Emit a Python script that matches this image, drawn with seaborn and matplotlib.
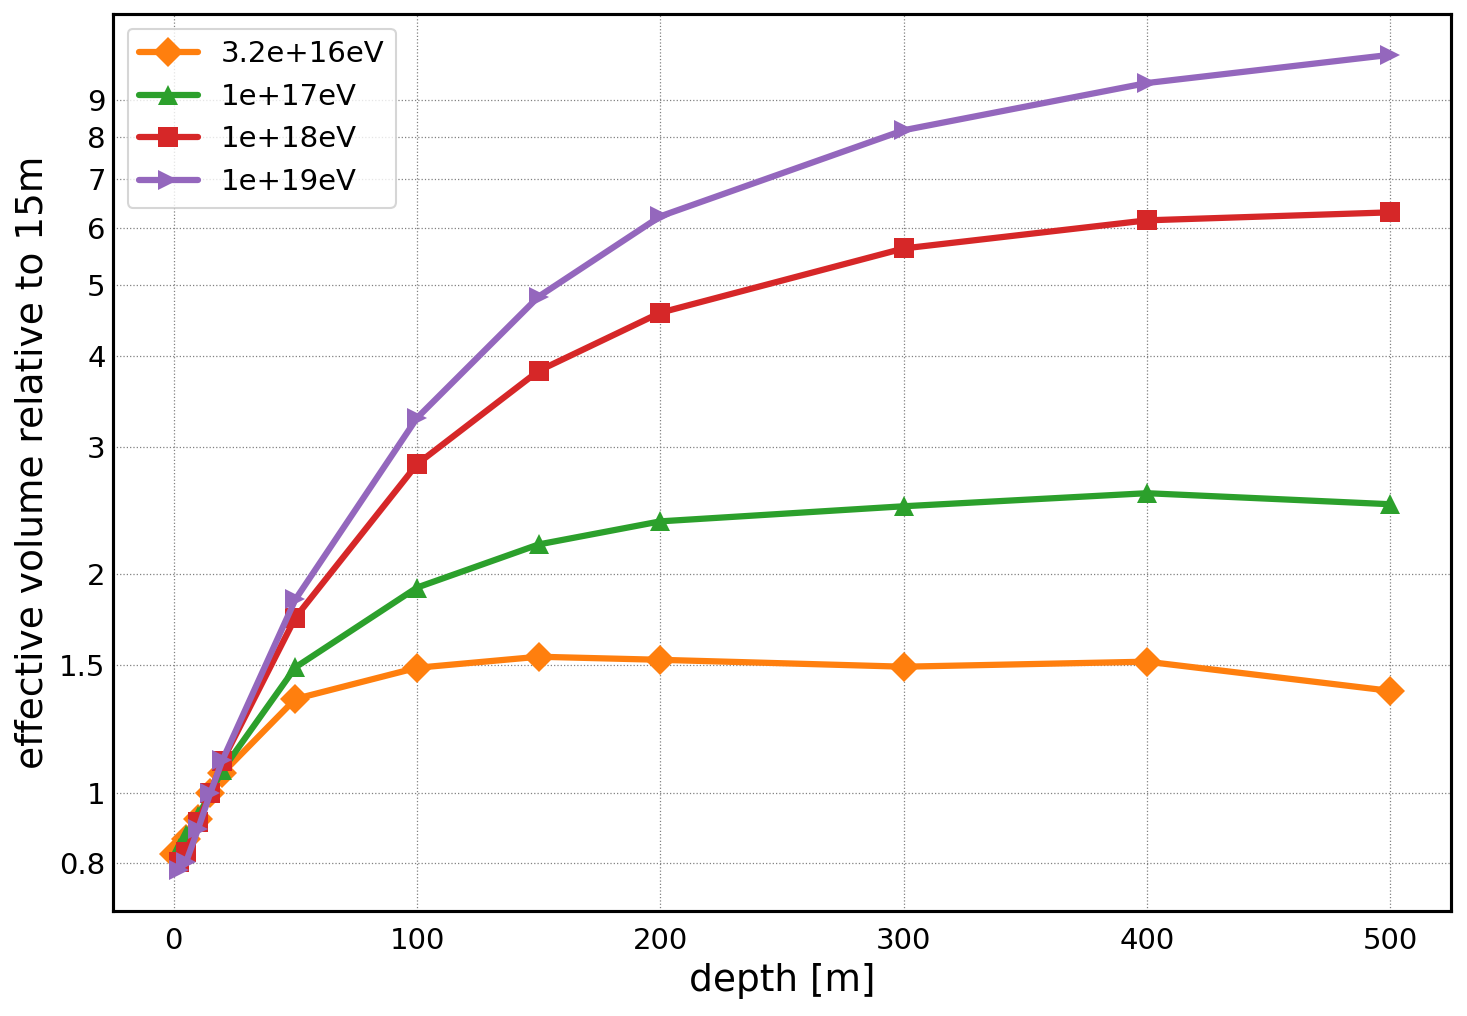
import numpy as np
import pandas as pd
import seaborn as sns
import matplotlib
matplotlib.use("Agg")
import matplotlib.pyplot as plt
from matplotlib.ticker import FixedLocator, FixedFormatter

sns.set_style("white")
plt.rcParams['font.family'] = ['DejaVu Sans']

# depth of the antenna and effective volume relative to the 15 m one
depth_32e16 = [0, 5, 10, 15, 20, 50, 100, 150, 200, 300, 400, 500]
depth = [2, 5, 10, 15, 20, 50, 100, 150, 200, 300, 400, 500]
veff_32e16 = [0.824, 0.865, 0.922, 1.0, 1.065, 1.348, 1.488, 1.541, 1.526, 1.493, 1.517, 1.383]
veff_1e17 = [0.84, 0.875, 0.93, 1.0, 1.076, 1.49, 1.919, 2.20, 2.367, 2.483, 2.588, 2.499]
veff_1e18 = [0.805, 0.83, 0.912, 1.0, 1.107, 1.745, 2.838, 3.815, 4.587, 5.623, 6.147, 6.305]
veff_1e19 = [0.783, 0.803, 0.893, 1.0, 1.11, 1.848, 3.286, 4.828, 6.226, 8.18, 9.50, 10.39]

energies = ["3.2e+16eV", "1e+17eV", "1e+18eV", "1e+19eV"]
depths = [depth_32e16, depth, depth, depth]
series = [veff_32e16, veff_1e17, veff_1e18, veff_1e19]
markers = ["D", "^", "s", ">"]
colors = ["#ff7f0e", "#2ca02c", "#d62728", "#9467bd"]

yticks_major = [0.8, 1, 1.5, 2, 3, 4, 5, 6, 7, 8, 9]
ytick_labels = ["0.8", "1", "1.5", "2", "3", "4", "5", "6", "7", "8", "9"]
yticks_minor = [0.7, 0.9]

fig = plt.figure(figsize=(1467 / 150, 1016 / 150), dpi=150)
ax = fig.add_axes([0.077, 0.1033, 0.9121, 0.8829])

for d, vals, lab, m, c in zip(depths, series, energies, markers, colors):
    sns.lineplot(x=d, y=vals, ax=ax, label=lab, marker=m, color=c,
                 markersize=10, linewidth=3, markeredgewidth=0)

ax.set_yscale("log")
ax.yaxis.set_major_locator(FixedLocator(yticks_major))
ax.yaxis.set_major_formatter(FixedFormatter(ytick_labels))
ax.yaxis.set_minor_locator(FixedLocator(yticks_minor))
ax.yaxis.set_minor_formatter(FixedFormatter(["", ""]))
ax.set_xticks([0, 100, 200, 300, 400, 500])

ax.tick_params(which="major", direction="in", length=7, width=1.2, labelsize=14,
               colors="black")
ax.tick_params(axis="x", which="major", pad=7.5)
ax.tick_params(which="minor", direction="in", length=3, width=1.0)
for s in ax.spines.values():
    s.set_linewidth(1.5)
    s.set_color("black")

ax.grid(True, which="major", linestyle=":", color="gray", linewidth=0.6)
ax.set_axisbelow(True)

ax.set_xlabel("depth [m]", fontsize=18, color="black")
ax.set_ylabel("effective volume relative to 15m", fontsize=18, color="black")
leg = ax.legend(loc="upper left", fontsize=14, frameon=True)
for t in leg.get_texts():
    t.set_color("black")

fig.savefig("out.png", dpi=150)
